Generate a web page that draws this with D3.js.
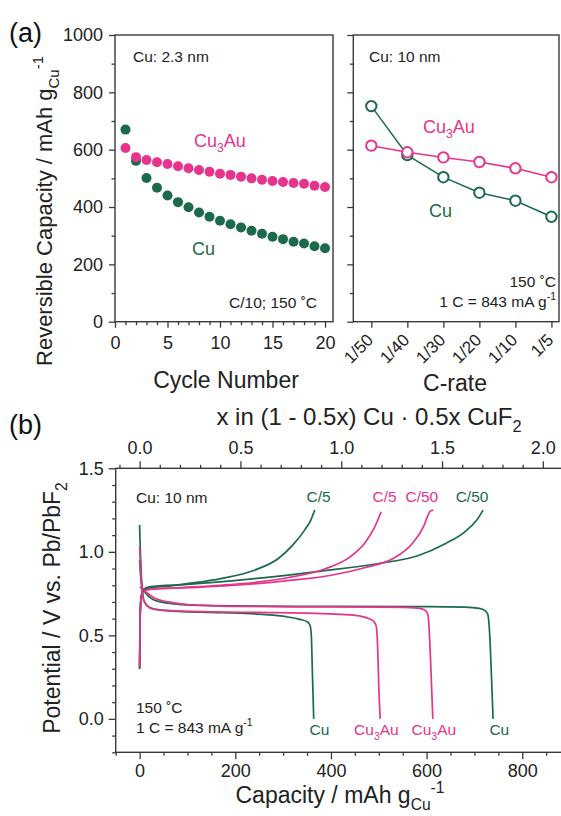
<!DOCTYPE html>
<html>
<head>
  <meta charset="utf-8">
  <title>Cu and Cu3Au capacity</title>
  <script src="https://cdn.jsdelivr.net/npm/d3@7/dist/d3.min.js"></script>
  <style>
    body { margin: 0; background: #fff; }
    svg { font-family: "Liberation Sans", Arial, sans-serif; }
    .axis line { stroke: #3a3a3a; stroke-width: 1.3; }
    .axis text { fill: #222; font-size: 18px; font-family: "Liberation Sans", Arial, sans-serif; }
    .frame { fill: none; stroke: #3a3a3a; stroke-width: 1.4; }
    .note { fill: #222; font-size: 15.5px; }
    .title { fill: #222; font-size: 23px; }
    .panel { fill: #111; font-size: 27px; }
  </style>
</head>
<body>
<svg id="fig" width="561" height="816"></svg>
<script>
// ---- data ----
var cycles = [1, 2, 3, 4, 5, 6, 7, 8, 9, 10, 11, 12, 13, 14, 15, 16, 17, 18, 19, 20];
var cycleCu = [670, 561, 501, 467, 440, 417, 399, 381, 366, 352, 340, 329, 317, 307, 296, 288, 279, 273, 263, 256];
var cycleCu3Au = [606, 574, 564, 556, 550, 542, 535, 529, 523, 516, 512, 506, 500, 495, 491, 487, 484, 481, 474, 470];

var rates = ['1/50', '1/40', '1/30', '1/20', '1/10', '1/5'];
var rateCu = [752, 581, 504, 450, 422, 366];
var rateCu3Au = [614, 591, 573, 557, 535, 504];

// [capacity mAh/g, potential V]
var cuC5Dis = [[0,1.16],[1,1.05],[3,0.9],[6,0.76],[10,0.7],[20,0.668],[40,0.652],[80,0.644],[150,0.638],[220,0.632],[270,0.623],[310,0.61],[335,0.596],[350,0.582],[356,0.562],[359,0.5],[361,0.3],[364,0.0]];
var auC5Dis = [[0,1.03],[2,0.9],[5,0.77],[10,0.7],[25,0.66],[60,0.648],[150,0.641],[250,0.637],[350,0.633],[420,0.626],[460,0.616],[480,0.6],[490,0.582],[495,0.55],[498,0.4],[500,0.2],[503,0.0]];
var auC50Dis = [[0,0.79],[5,0.78],[15,0.755],[30,0.725],[60,0.7],[100,0.684],[200,0.674],[400,0.67],[550,0.668],[585,0.662],[598,0.648],[603,0.62],[606,0.5],[609,0.3],[613,0.0]];
var cuC50Dis = [[0,0.95],[2,0.86],[5,0.79],[12,0.755],[28,0.715],[60,0.692],[100,0.682],[200,0.676],[400,0.673],[600,0.672],[680,0.669],[710,0.662],[722,0.648],[728,0.625],[732,0.5],[735,0.3],[739,0.0]];

var cuC5Chg = [[0,0.3],[1,0.6],[3,0.72],[8,0.77],[20,0.785],[60,0.795],[100,0.81],[170,0.84],[240,0.89],[290,0.96],[320,1.04],[345,1.13],[358,1.19],[366,1.25]];
var auC5Chg = [[0,0.31],[1,0.6],[3,0.72],[8,0.765],[20,0.775],[80,0.785],[170,0.8],[250,0.82],[310,0.845],[390,0.9],[440,0.97],[470,1.05],[490,1.14],[505,1.24]];
var auC50Chg = [[0,0.32],[1,0.6],[3,0.72],[8,0.765],[20,0.775],[100,0.785],[200,0.8],[300,0.825],[400,0.86],[470,0.905],[530,0.96],[570,1.05],[595,1.16],[603,1.22],[608,1.245],[614,1.25]];
var cuC50Chg = [[0,0.3],[1,0.6],[3,0.73],[8,0.775],[20,0.79],[100,0.805],[240,0.84],[380,0.885],[500,0.93],[580,0.975],[640,1.05],[680,1.12],[705,1.19],[718,1.25]];

var green = '#1b6a4b';
var pink = '#e6348d';

var svg = d3.select('#fig');

// text with sub / superscripts
function rich(sel, parts, size) {
  var shift = 0;
  parts.forEach(function (p) {
    var target = p[1] === 'sub' ? 0.3 * size : p[1] === 'sup' ? -0.42 * size : 0;
    var t = sel.append('tspan').attr('dy', target - shift).text(p[0]);
    if (p[1] !== 'n') t.style('font-size', (0.68 * size) + 'px');
    shift = target;
  });
  return sel;
}

function noDomain(g) { g.select('.domain').remove(); }

// ================= panel (a), left =================
var xA = d3.scaleLinear().domain([0, 20.76]).range([115, 333]);
var yA = d3.scaleLinear().domain([0, 1000]).range([321.7, 35]);

svg.append('g').attr('class', 'axis').attr('transform', 'translate(0,321.7)')
  .call(d3.axisBottom(xA).tickValues([0, 5, 10, 15, 20]).tickSize(6).tickPadding(9)).call(noDomain);
svg.append('g').attr('class', 'axis').attr('transform', 'translate(0,321.7)')
  .call(d3.axisBottom(xA).tickValues(xA.ticks(20).filter(d => d % 5 !== 0 && d <= 20)).tickSize(3.5).tickFormat('')).call(noDomain);
svg.append('g').attr('class', 'axis').attr('transform', 'translate(115,0)')
  .call(d3.axisLeft(yA).tickValues([0, 200, 400, 600, 800, 1000]).tickSize(6).tickPadding(6).tickFormat(d3.format('d'))).call(noDomain);
svg.append('g').attr('class', 'axis').attr('transform', 'translate(115,0)')
  .call(d3.axisLeft(yA).tickValues([100, 300, 500, 700, 900]).tickSize(3.5).tickFormat('')).call(noDomain);

svg.append('rect').attr('class', 'frame')
  .attr('x', xA.range()[0]).attr('y', yA.range()[1])
  .attr('width', xA.range()[1] - xA.range()[0]).attr('height', yA.range()[0] - yA.range()[1]);

svg.append('g').selectAll('circle').data(cycles).join('circle')
  .attr('cx', d => xA(d)).attr('cy', (d, i) => yA(cycleCu[i])).attr('r', 5).attr('fill', green);
svg.append('g').selectAll('circle').data(cycles).join('circle')
  .attr('cx', d => xA(d)).attr('cy', (d, i) => yA(cycleCu3Au[i])).attr('r', 5).attr('fill', pink);

svg.append('text').attr('class', 'note').attr('x', 133).attr('y', 62).text('Cu: 2.3 nm');
svg.append('text').attr('class', 'note').attr('x', 317).attr('y', 308).attr('text-anchor', 'end').text('C/10; 150 ˚C');
rich(svg.append('text').attr('x', 194).attr('y', 147).attr('fill', pink).style('font-size', '18px'),
  [['Cu', 'n'], ['3', 'sub'], ['Au', 'n']], 18);
svg.append('text').attr('x', 192).attr('y', 255).attr('fill', green).style('font-size', '18px').text('Cu');

svg.append('text').attr('class', 'title').attr('x', 226).attr('y', 388).attr('text-anchor', 'middle').text('Cycle Number');
rich(svg.append('text').attr('class', 'title').attr('text-anchor', 'middle').style('font-size', '22px')
  .attr('transform', 'translate(52,211) rotate(-90)'),
  [['Reversible Capacity / mAh g', 'n'], ['Cu', 'sub'], ['-1', 'sup']], 22);

svg.append('text').attr('class', 'panel').attr('x', 9).attr('y', 42).text('(a)');

// ================= panel (a), right =================
var xR = d3.scaleLinear().domain([-0.5, 5.21]).range([353.3, 559]);
var yR = d3.scaleLinear().domain([0, 1000]).range([321.7, 35]);
var idx = rates.map((d, i) => i);

svg.append('g').attr('class', 'axis').attr('transform', 'translate(0,321.7)')
  .call(d3.axisBottom(xR).tickValues(idx).tickSize(6).tickFormat('')).call(noDomain);
svg.append('g').attr('class', 'axis').attr('transform', 'translate(353.3,0)')
  .call(d3.axisLeft(yR).tickValues([0, 200, 400, 600, 800, 1000]).tickSize(6).tickFormat('')).call(noDomain);
svg.append('g').attr('class', 'axis').attr('transform', 'translate(353.3,0)')
  .call(d3.axisLeft(yR).tickValues([100, 300, 500, 700, 900]).tickSize(3.5).tickFormat('')).call(noDomain);

svg.append('g').selectAll('text').data(rates).join('text')
  .attr('transform', (d, i) => 'translate(' + (xR(i) + 3) + ',341) rotate(-45)')
  .attr('text-anchor', 'end').attr('fill', '#222').style('font-size', '17px').text(d => d);

svg.append('rect').attr('class', 'frame')
  .attr('x', xR.range()[0]).attr('y', yR.range()[1])
  .attr('width', xR.range()[1] - xR.range()[0]).attr('height', yR.range()[0] - yR.range()[1]);

var rateLine = d3.line().x(d => xR(d[0])).y(d => yR(d[1]));
[[rateCu, green], [rateCu3Au, pink]].forEach(function (s) {
  var pts = s[0].map((v, i) => [i, v]);
  svg.append('path').attr('d', rateLine(pts)).attr('fill', 'none').attr('stroke', s[1]).attr('stroke-width', 1.5);
  svg.append('g').selectAll('circle').data(pts).join('circle')
    .attr('cx', d => xR(d[0])).attr('cy', d => yR(d[1])).attr('r', 5.2)
    .attr('fill', '#fff').attr('stroke', s[1]).attr('stroke-width', 2);
});

svg.append('text').attr('class', 'note').attr('x', 369).attr('y', 62).text('Cu: 10 nm');
svg.append('text').attr('class', 'note').attr('x', 556).attr('y', 287).attr('text-anchor', 'end').text('150 ˚C');
rich(svg.append('text').attr('class', 'note').attr('x', 556).attr('y', 307).attr('text-anchor', 'end'),
  [['1 C = 843 mA g', 'n'], ['-1', 'sup']], 15.5);
rich(svg.append('text').attr('x', 423).attr('y', 133).attr('fill', pink).style('font-size', '18px'),
  [['Cu', 'n'], ['3', 'sub'], ['Au', 'n']], 18);
svg.append('text').attr('x', 429).attr('y', 217).attr('fill', green).style('font-size', '18px').text('Cu');

svg.append('text').attr('class', 'title').attr('x', 455).attr('y', 391).attr('text-anchor', 'middle').text('C-rate');

// ================= panel (b) =================
var xB = d3.scaleLinear().domain([-50, 900]).range([115.7, 570.1]);
var xT = d3.scaleLinear().domain([-50 * 2 / 843, 900 * 2 / 843]).range([115.7, 570.1]);
var yB = d3.scaleLinear().domain([-0.2, 1.5]).range([752.3, 468.3]);

svg.append('g').attr('class', 'axis').attr('transform', 'translate(0,752.3)')
  .call(d3.axisBottom(xB).tickValues([0, 200, 400, 600, 800]).tickSize(7).tickPadding(5)).call(noDomain);
svg.append('g').attr('class', 'axis').attr('transform', 'translate(0,752.3)')
  .call(d3.axisBottom(xB).tickValues(d3.range(-50, 901, 50).filter(d => d % 200 !== 0)).tickSize(3.5).tickFormat('')).call(noDomain);
svg.append('g').attr('class', 'axis').attr('transform', 'translate(0,468.3)')
  .call(d3.axisTop(xT).tickValues([0, 0.5, 1, 1.5, 2]).tickSize(7).tickPadding(7).tickFormat(d3.format('.1f'))).call(noDomain);
svg.append('g').attr('class', 'axis').attr('transform', 'translate(0,468.3)')
  .call(d3.axisTop(xT).tickValues(xT.ticks(20).filter(d => Math.round(d * 10) % 5 !== 0)).tickSize(3.5).tickFormat('')).call(noDomain);
svg.append('g').attr('class', 'axis').attr('transform', 'translate(115.7,0)')
  .call(d3.axisLeft(yB).tickValues([0, 0.5, 1, 1.5]).tickSize(7).tickPadding(5).tickFormat(d3.format('.1f'))).call(noDomain);
svg.append('g').attr('class', 'axis').attr('transform', 'translate(115.7,0)')
  .call(d3.axisLeft(yB).tickValues(yB.ticks(17).filter(d => Math.round(d * 10) % 5 !== 0)).tickSize(3.5).tickFormat('')).call(noDomain);

svg.append('rect').attr('class', 'frame')
  .attr('x', xB.range()[0]).attr('y', yB.range()[1])
  .attr('width', xB.range()[1] - xB.range()[0]).attr('height', yB.range()[0] - yB.range()[1]);

svg.append('clipPath').attr('id', 'clipB').append('rect')
  .attr('x', xB.range()[0]).attr('y', yB.range()[1])
  .attr('width', xB.range()[1] - xB.range()[0]).attr('height', yB.range()[0] - yB.range()[1]);

var vLine = d3.line().x(d => xB(d[0])).y(d => yB(d[1])).curve(d3.curveMonotoneX);
var curves = [
  [cuC50Chg, green], [auC50Chg, pink], [cuC5Chg, green], [auC5Chg, pink],
  [cuC50Dis, green], [auC50Dis, pink], [cuC5Dis, green], [auC5Dis, pink]
];
svg.append('g').attr('clip-path', 'url(#clipB)').selectAll('path').data(curves).join('path')
  .attr('d', d => vLine(d[0])).attr('fill', 'none').attr('stroke', d => d[1]).attr('stroke-width', 1.7);

svg.append('text').attr('class', 'note').attr('x', 136).attr('y', 503).text('Cu: 10 nm');
svg.append('text').attr('class', 'note').attr('x', 136).attr('y', 713).text('150 ˚C');
rich(svg.append('text').attr('class', 'note').attr('x', 136).attr('y', 733),
  [['1 C = 843 mA g', 'n'], ['-1', 'sup']], 15.5);

// rate labels above the charge curves, sample labels under the discharge ends
var topLabels = [['C/5', 374, green], ['C/5', 512, pink], ['C/50', 590, pink], ['C/50', 695, green]];
svg.append('g').selectAll('text').data(topLabels).join('text')
  .attr('x', d => xB(d[1])).attr('y', 502).attr('text-anchor', 'middle')
  .attr('fill', d => d[2]).style('font-size', '15.5px').text(d => d[0]);
var botLabels = [['Cu', 376, green], ['Cu3Au', 495, pink], ['Cu3Au', 615, pink], ['Cu', 752, green]];
botLabels.forEach(function (d) {
  var t = svg.append('text').attr('x', xB(d[1])).attr('y', 735).attr('text-anchor', 'middle')
    .attr('fill', d[2]).style('font-size', '15.5px');
  if (d[0] === 'Cu3Au') rich(t, [['Cu', 'n'], ['3', 'sub'], ['Au', 'n']], 15.5);
  else t.text(d[0]);
});

rich(svg.append('text').attr('class', 'title').attr('text-anchor', 'middle')
  .attr('transform', 'translate(60,608) rotate(-90)'),
  [['Potential / V vs. Pb/PbF', 'n'], ['2', 'sub']], 23);
rich(svg.append('text').attr('class', 'title').attr('x', 340).attr('y', 803).attr('text-anchor', 'middle'),
  [['Capacity / mAh g', 'n'], ['Cu', 'sub'], ['-1', 'sup']], 23);
rich(svg.append('text').attr('class', 'title').attr('x', 369).attr('y', 425).attr('text-anchor', 'middle')
  .style('font-size', '24px'),
  [['x in (1 - 0.5x) Cu · 0.5x CuF', 'n'], ['2', 'sub']], 24);

svg.append('text').attr('class', 'panel').attr('x', 9).attr('y', 434).text('(b)');
</script>
</body>
</html>
